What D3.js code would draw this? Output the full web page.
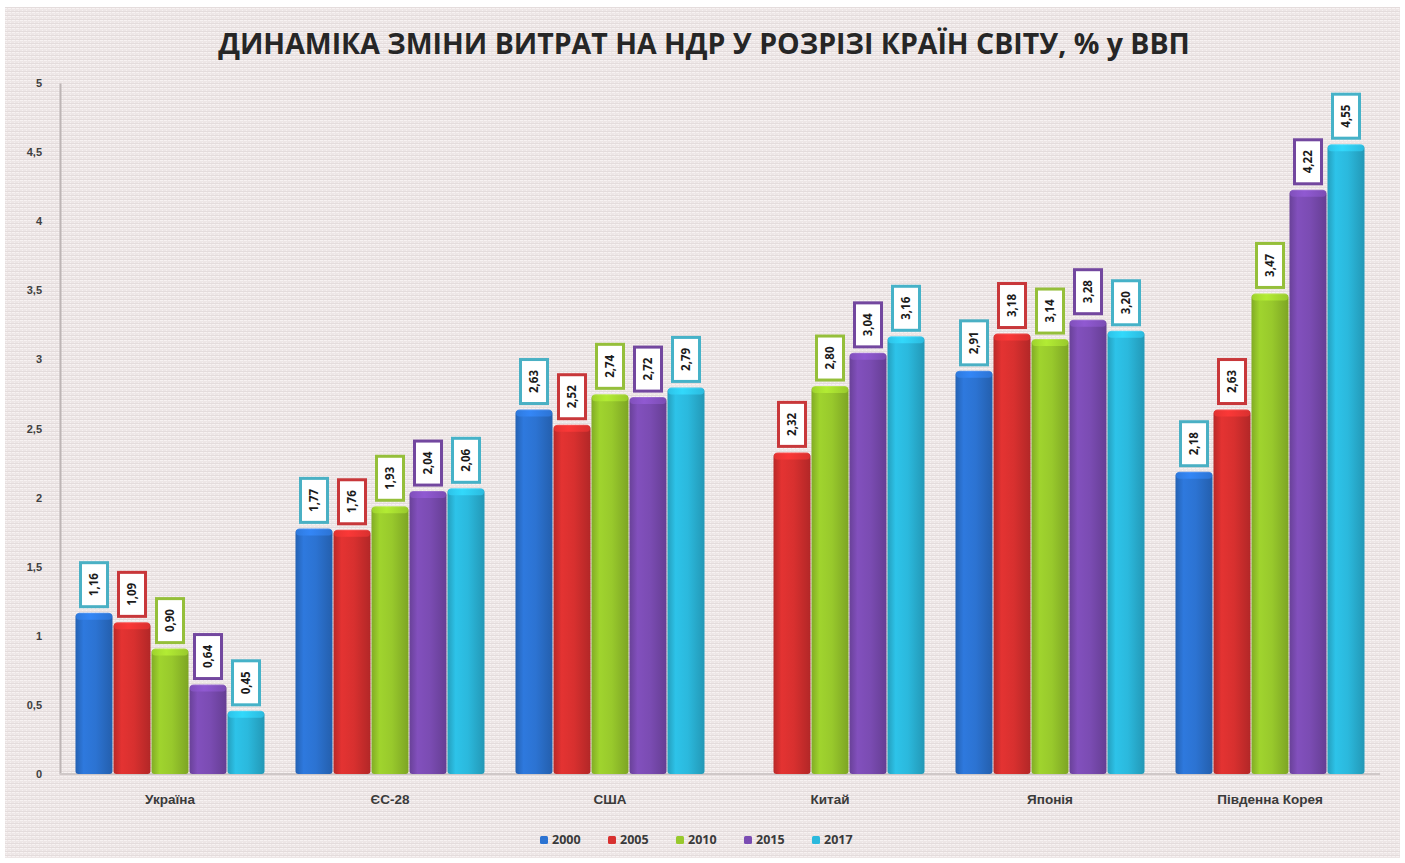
<!DOCTYPE html>
<html lang="uk">
<head>
<meta charset="utf-8">
<script src="https://cdn.jsdelivr.net/npm/d3@7"></script>
<style>
  html, body { margin: 0; padding: 0; background: #ffffff; }
  svg { display: block; font-family: "Open Sans", "DejaVu Sans", sans-serif; }
</style>
</head>
<body>
<svg id="chart" width="1405" height="863"></svg>
<script>
// R&D spending as % of GDP, by country and year
const categories = ["Україна", "ЄС-28", "США", "Китай", "Японія", "Південна Корея"];
const years = ["2000", "2005", "2010", "2015", "2017"];
const values2000 = [1.16, 1.77, 2.63, null, 2.91, 2.18];
const values2005 = [1.09, 1.76, 2.52, 2.32, 3.18, 2.63];
const values2010 = [0.90, 1.93, 2.74, 2.80, 3.14, 3.47];
const values2015 = [0.64, 2.04, 2.72, 3.04, 3.28, 4.22];
const values2017 = [0.45, 2.06, 2.79, 3.16, 3.20, 4.55];
const yTicks = [0, 0.5, 1, 1.5, 2, 2.5, 3, 3.5, 4, 4.5, 5];
const title = "ДИНАМІКА ЗМІНИ ВИТРАТ НА НДР У РОЗРІЗІ КРАЇН СВІТУ, % у ВВП";

const seriesValues = [values2000, values2005, values2010, values2015, values2017];
const barColors = ["#2c73d2", "#d8302f", "#98c92c", "#7b4cb3", "#2bb9dd"];
const labelBorders = ["#4ab0c4", "#c8373a", "#95bf3a", "#73479f", "#46b2c8"];

const svg = d3.select("#chart");
const W = 1405, H = 863;
const defs = svg.append("defs");

// woven background texture
const pat = defs.append("pattern").attr("id", "weave")
  .attr("width", 4).attr("height", 4).attr("patternUnits", "userSpaceOnUse");
pat.append("rect").attr("width", 4).attr("height", 4).attr("fill", "#ede6e6");
pat.append("rect").attr("x", 0).attr("y", 0).attr("width", 3).attr("height", 1).attr("fill", "#f7f2f2");
pat.append("rect").attr("x", 2).attr("y", 2).attr("width", 1).attr("height", 2).attr("fill", "#f5f0f0");
pat.append("rect").attr("x", 0).attr("y", 3).attr("width", 4).attr("height", 1).attr("fill", "#e4dcdc");

svg.append("rect").attr("width", W).attr("height", H).attr("fill", "#ffffff");
svg.append("rect").attr("x", 5).attr("y", 7).attr("width", W - 10).attr("height", H - 12)
  .attr("fill", "url(#weave)");

// cylinder-like shading for each series
barColors.forEach((c, i) => {
  const base = d3.color(c);
  const g = defs.append("linearGradient").attr("id", "bar" + i)
    .attr("x1", "0%").attr("x2", "100%").attr("y1", "0%").attr("y2", "0%");
  g.append("stop").attr("offset", "0%").attr("stop-color", base.darker(0.45));
  g.append("stop").attr("offset", "22%").attr("stop-color", base.brighter(0.15));
  g.append("stop").attr("offset", "55%").attr("stop-color", base);
  g.append("stop").attr("offset", "100%").attr("stop-color", base.darker(0.55));
  const t = defs.append("linearGradient").attr("id", "cap" + i)
    .attr("x1", "0%").attr("x2", "100%").attr("y1", "0%").attr("y2", "0%");
  t.append("stop").attr("offset", "0%").attr("stop-color", base.brighter(0.2));
  t.append("stop").attr("offset", "40%").attr("stop-color", base.brighter(0.5));
  t.append("stop").attr("offset", "100%").attr("stop-color", base.brighter(0.1));
});

const margin = { left: 60, right: 25, top: 83, bottom: 89 };
const x0 = d3.scaleBand().domain(categories)
  .range([margin.left, W - margin.right])
  .paddingInner(30 / 220).paddingOuter(15 / 220);
const x1 = d3.scaleBand().domain(years).range([0, x0.bandwidth()]).padding(0);
const y = d3.scaleLinear().domain([0, 5]).range([H - margin.bottom, margin.top]);

// title
const titleText = svg.append("text")
  .attr("x", 704).attr("y", 54)
  .attr("text-anchor", "middle")
  .attr("font-weight", 700)
  .attr("font-size", 24)
  .attr("fill", "#262626")
  .text(title);
const tw = titleText.node().getComputedTextLength();
titleText.attr("font-size", 24 * 972 / tw);

// y axis
const yAxis = d3.axisLeft(y).tickValues(yTicks)
  .tickSize(0).tickPadding(18)
  .tickFormat(d => d3.format("")(d).replace(".", ","));
const gy = svg.append("g").attr("transform", `translate(${margin.left},0)`).call(yAxis);
gy.select(".domain").attr("stroke", "#bdb5b5").attr("stroke-width", 2);
gy.selectAll("text").attr("font-size", 11).attr("font-weight", 700).attr("fill", "#404040");

// x axis
const xAxis = d3.axisBottom(x0).tickSize(0).tickPadding(20);
const gx = svg.append("g").attr("transform", `translate(0,${y(0)})`).call(xAxis);
gx.select(".domain").attr("stroke", "#cfc8c8").attr("stroke-width", 2)
  .attr("d", `M${margin.left},0H${W - margin.right}`);
gx.selectAll("text").attr("font-size", 13.5).attr("font-weight", 700).attr("fill", "#3a3a3a");

// bars
const rows = [];
categories.forEach((c, ci) => {
  years.forEach((yr, si) => {
    const v = seriesValues[si][ci];
    if (v != null) rows.push({ cat: c, year: yr, si, v });
  });
});

const bw = x1.bandwidth();
const barG = svg.append("g").selectAll("g").data(rows).join("g")
  .attr("transform", d => `translate(${x0(d.cat) + x1(d.year)},0)`);

barG.append("rect")
  .attr("x", 0.5).attr("width", bw - 1)
  .attr("y", d => y(d.v))
  .attr("height", d => y(0) - y(d.v))
  .attr("rx", 3)
  .attr("fill", d => `url(#bar${d.si})`);

barG.append("rect")
  .attr("x", 1).attr("width", bw - 2)
  .attr("y", d => y(d.v) - 1)
  .attr("height", 7)
  .attr("rx", 3.5)
  .attr("fill", d => `url(#cap${d.si})`)
  .attr("opacity", 0.85);

// value labels: rotated text in bordered boxes
const fmt = d3.format(".2f");
const boxW = 27, boxH = 44, gap = 7;
const lab = barG.append("g")
  .attr("transform", d => `translate(${bw / 2},${y(d.v) - gap - boxH / 2})`);
lab.append("rect")
  .attr("x", -boxW / 2).attr("y", -boxH / 2)
  .attr("width", boxW).attr("height", boxH)
  .attr("fill", "#ffffff")
  .attr("stroke", d => labelBorders[d.si])
  .attr("stroke-width", 3);
lab.append("text")
  .attr("transform", "rotate(-90)")
  .attr("text-anchor", "middle")
  .attr("dy", "0.35em")
  .attr("font-size", 11.5)
  .attr("font-weight", 700)
  .attr("fill", "#1a1a1a")
  .text(d => fmt(d.v).replace(".", ","));

// legend
const legend = svg.append("g").attr("transform", "translate(540,840)");
const itemW = 68;
const li = legend.selectAll("g").data(years).join("g")
  .attr("transform", (d, i) => `translate(${i * itemW},0)`);
li.append("rect").attr("x", 0).attr("y", -4).attr("width", 8).attr("height", 8)
  .attr("rx", 1.5)
  .attr("fill", (d, i) => barColors[i]);
li.append("text").attr("x", 12).attr("dy", "0.35em")
  .attr("font-size", 12.5).attr("font-weight", 700).attr("fill", "#3a3a3a")
  .text(d => d);
</script>
</body>
</html>
